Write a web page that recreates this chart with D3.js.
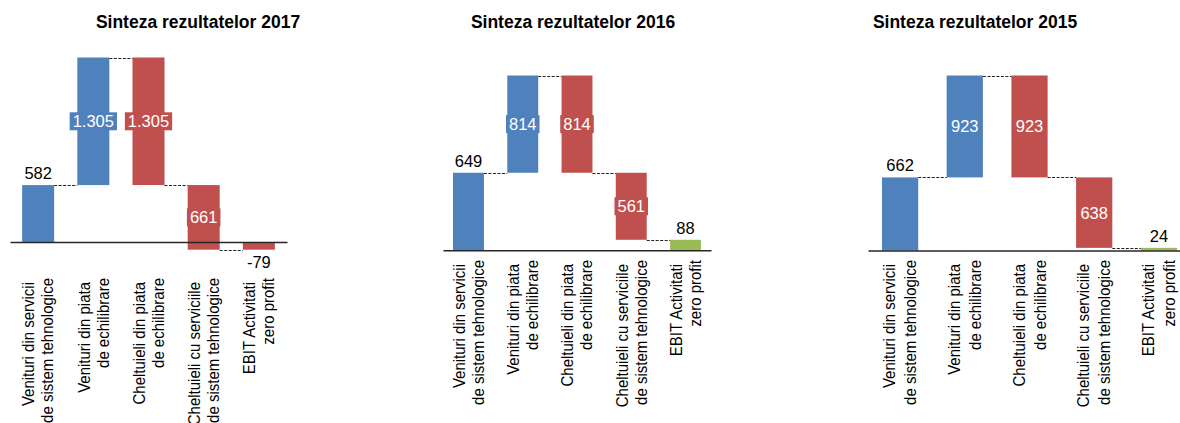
<!DOCTYPE html>
<html>
<head>
<meta charset="utf-8">
<script src="https://cdn.jsdelivr.net/npm/d3@7"></script>
<style>
  html, body { margin: 0; padding: 0; background: #ffffff; }
  svg { display: block; font-family: "Liberation Sans", Arial, sans-serif; }
</style>
</head>
<body>
<svg id="chart" width="1180" height="423"></svg>
<script>
// Category labels (two lines each), shared by the three waterfalls
const categories = [
  ["Venituri din servicii", "de sistem tehnologice"],
  ["Venituri din piata", "de echilibrare"],
  ["Cheltuieli din piata", "de echilibrare"],
  ["Cheltuieli cu serviciile", "de sistem tehnologice"],
  ["EBIT Activitati", "zero profit"]
];
// Kind of each step: revenue (up), cost (down), final total
const stepKinds = ["revenue", "revenue", "cost", "cost", "total"];

const years = ["2017", "2016", "2015"];
// Step amounts per year (costs negative); the last entry is the resulting EBIT
const values2017 = [582, 1305, -1305, -661, -79];
const values2016 = [649, 814, -814, -561, 88];
const values2015 = [662, 923, -923, -638, 24];

const colors = { revenue: "#4F81BD", cost: "#C0504D", positive: "#9BBB59" };

const ro = d3.formatLocale({ decimal: ",", thousands: ".", grouping: [3], currency: ["", " lei"], minus: "-" });
const fmt = ro.format(",d");

// Panel layouts (pixels)
const panels = [
  { values: values2017, x0: 10,  x1: 287,  pIn: 0.42, pOut: 0.22, yBot: 249.7, yTop: 57.5, titleX: 198, labelTop: 278 },
  { values: values2016, x0: 443, x1: 711,  pIn: 0.43, pOut: 0.185, yBot: 250.3, yTop: 75.5, titleX: 573, labelTop: 260 },
  { values: values2015, x0: 868, x1: 1191, pIn: 0.44, pOut: 0.216, yBot: 250.5, yTop: 75.5, titleX: 975, labelTop: 260 }
];

const svg = d3.select("#chart");

panels.forEach((p, pi) => {
  const g = svg.append("g");
  const vals = p.values;

  // Build floating segments
  let running = 0;
  const segs = vals.map((v, i) => {
    const kind = stepKinds[i];
    let start, end;
    if (kind === "total") { start = 0; end = v; }
    else { start = running; end = running + v; running = end; }
    const fill = kind === "total" ? (v >= 0 ? colors.positive : colors.cost) : colors[kind];
    return { i, v, kind, start, end, lo: Math.min(start, end), hi: Math.max(start, end), fill };
  });

  const lo = Math.min(0, d3.min(segs, d => d.lo));
  const hi = d3.max(segs, d => d.hi);

  const x = d3.scaleBand().domain(d3.range(vals.length)).range([p.x0, p.x1])
    .paddingInner(p.pIn).paddingOuter(p.pOut);
  const y = d3.scaleLinear().domain([lo, hi]).range([p.yBot, p.yTop]);

  // Title
  g.append("text")
    .attr("x", p.titleX).attr("y", 28)
    .attr("text-anchor", "middle")
    .attr("font-weight", "bold").attr("font-size", 17.5)
    .attr("fill", "#000")
    .text("Sinteza rezultatelor " + years[pi]);

  // Bars
  g.selectAll("rect.bar").data(segs).join("rect")
    .attr("class", "bar")
    .attr("x", d => x(d.i))
    .attr("width", x.bandwidth())
    .attr("y", d => y(d.hi))
    .attr("height", d => Math.max(1, y(d.lo) - y(d.hi)))
    .attr("fill", d => d.fill);

  // Dashed connectors between consecutive bars
  const links = segs.slice(0, -1).map((d, k) => {
    const next = segs[k + 1];
    const level = next.kind === "total" ? d.end : next.start;
    return { a: d.i, b: next.i, level };
  });
  g.selectAll("line.conn").data(links).join("line")
    .attr("class", "conn")
    .attr("x1", d => x(d.a) + x.bandwidth())
    .attr("x2", d => x(d.b))
    .attr("y1", d => Math.round(y(d.level)) + 0.5)
    .attr("y2", d => Math.round(y(d.level)) + 0.5)
    .attr("stroke", "#222").attr("stroke-width", 1.2)
    .attr("stroke-dasharray", "3,1.5");

  // Axis line at zero
  const axis = d3.axisBottom(x).tickSize(0).tickFormat("");
  const ag = g.append("g").attr("transform", `translate(0,${y(0)})`).call(axis);
  ag.select(".domain").attr("stroke", "#262626").attr("stroke-width", 1.5);

  // Value labels
  segs.forEach(d => {
    const cx = x(d.i) + x.bandwidth() / 2;
    const label = fmt(d.kind === "total" ? d.v : Math.abs(d.v));
    if (d.i === 0 || d.kind === "total") {
      const above = d.v >= 0;
      g.append("text")
        .attr("x", cx)
        .attr("y", above ? y(d.hi) - 6 : y(d.lo) + 18)
        .attr("text-anchor", "middle").attr("font-size", 16.5)
        .attr("fill", "#000")
        .text(label);
    } else {
      const cy = (y(d.hi) + y(d.lo)) / 2;
      const t = g.append("text")
        .attr("x", cx).attr("y", cy + 6)
        .attr("text-anchor", "middle").attr("font-size", 16.5)
        .attr("fill", "#ffffff")
        .text(label);
      const w = t.node().getComputedTextLength();
      g.insert("rect", () => t.node())
        .attr("x", cx - w / 2 - 3).attr("y", cy - 9)
        .attr("width", w + 6).attr("height", 18)
        .attr("fill", d.fill);
    }
  });

  // Rotated category labels
  categories.forEach((lines, i) => {
    const cx = x(i) + x.bandwidth() / 2;
    const gap = x.bandwidth() > 34 ? 10.5 : 9.5;
    lines.forEach((line, li) => {
      const lx = cx + (li === 0 ? -gap : gap);
      const ly = p.labelTop + (li === 0 ? 4 : 0);
      g.append("text")
        .attr("transform", `translate(${lx},${ly}) scale(1.1,1) rotate(-90)`)
        .attr("text-anchor", "end")
        .attr("dominant-baseline", "central")
        .attr("font-size", 15)
        .attr("fill", "#000")
        .text(line);
    });
  });
});
</script>
</body>
</html>
